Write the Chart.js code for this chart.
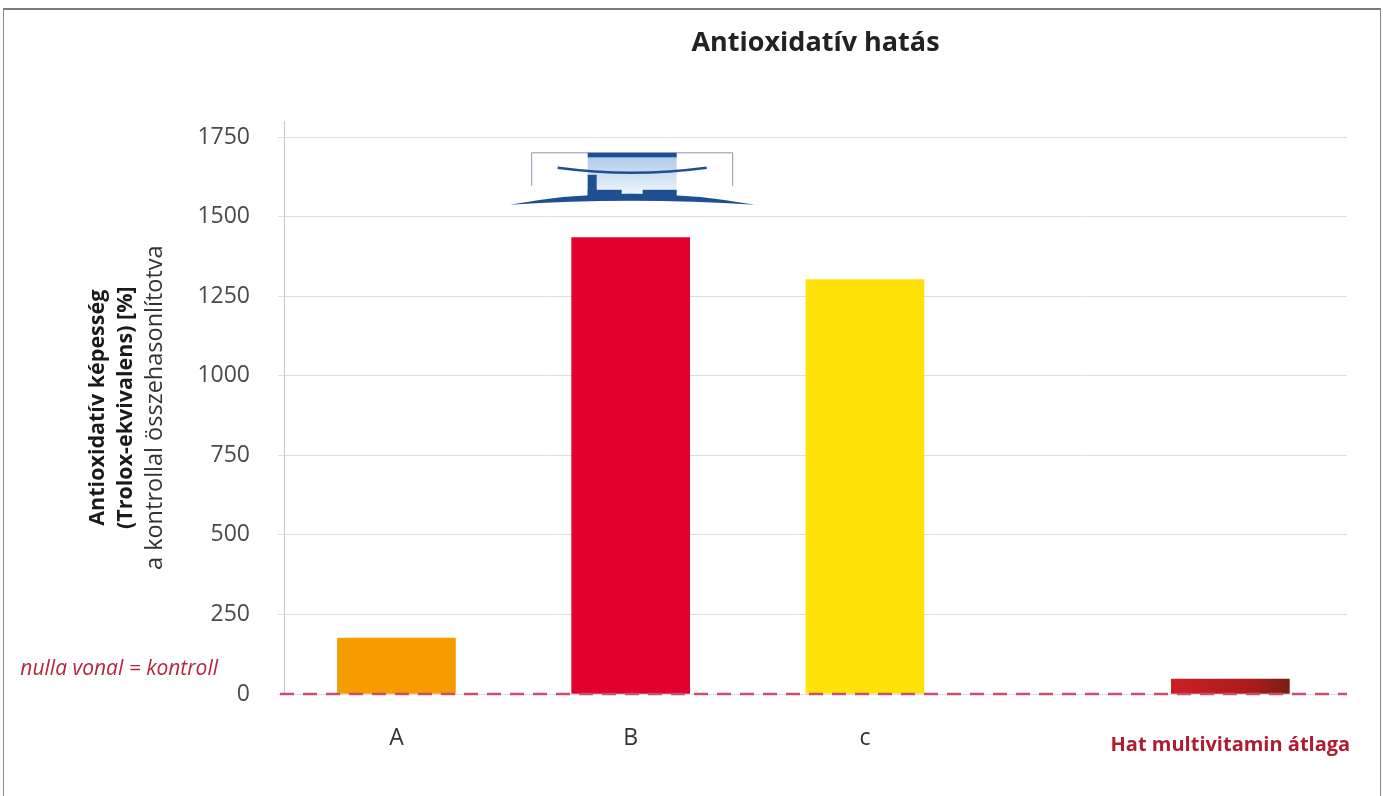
<!DOCTYPE html>
<html>
<head>
<meta charset="utf-8">
<script src="https://cdn.jsdelivr.net/npm/chart.js@4.4.1/dist/chart.umd.min.js"></script>
<style>
  html, body { margin: 0; padding: 0; background: #fff; }
  #frame { position: absolute; left: 3px; top: 8px; width: 1376px; height: 800px; border: 1px solid #8c8c8c; border-top: 2px solid #7a7a7a; }
  #wrap { position: absolute; left: 0; top: 0; width: 1383px; height: 796px; }
</style>
</head>
<body>
<div id="frame"></div>
<div id="wrap"><canvas id="myChart"></canvas></div>
<script>
const categories = ['A', 'B', 'c', 'Hat multivitamin átlaga'];
const values = [176, 1435, 1303, 47];
const barColors = ['#f59c00', '#e2002d', '#ffe20a', '#b51e1e'];
const yTicks = [0, 250, 500, 750, 1000, 1250, 1500, 1750];
const yMax = 1800;

// the multivitamin average stands apart from the three products
const groupGap = 1.56;
const slots = categories.map((c, i) => i < 3 ? i + 1 : 3 + groupGap);

const FONT = 'Open Sans';

const drawLogo = function(ctx, cx, top) {
  ctx.save();
  // thin outline
  ctx.strokeStyle = '#8a98ad';
  ctx.lineWidth = 1;
  ctx.beginPath();
  ctx.moveTo(cx - 99, top + 33);
  ctx.lineTo(cx - 99, top);
  ctx.lineTo(cx + 102, top);
  ctx.lineTo(cx + 102, top + 33);
  ctx.stroke();

  // light box
  const g = ctx.createLinearGradient(0, top, 0, top + 40);
  g.addColorStop(0, '#a7c6e6');
  g.addColorStop(1, '#eef4fb');
  ctx.fillStyle = g;
  ctx.fillRect(cx - 43, top + 4, 89, 36);

  ctx.fillStyle = '#1d4f91';
  ctx.fillRect(cx - 43, top, 89, 4.5);

  // bow
  ctx.strokeStyle = '#1d4f91';
  ctx.lineWidth = 2.5;
  ctx.beginPath();
  ctx.moveTo(cx - 73, top + 15);
  ctx.quadraticCurveTo(cx + 1, top + 25, cx + 76, top + 15);
  ctx.stroke();

  // steps
  ctx.fillRect(cx - 43, top + 22, 9, 25);
  ctx.fillRect(cx - 43, top + 37, 34, 10);
  ctx.fillRect(cx - 9, top + 41, 21, 6);
  ctx.fillRect(cx + 12, top + 37, 34, 10);

  // base lens
  ctx.beginPath();
  ctx.moveTo(cx - 121, top + 52);
  ctx.quadraticCurveTo(cx, top + 30, cx + 124, top + 52);
  ctx.quadraticCurveTo(cx, top + 44, cx - 121, top + 52);
  ctx.fill();
  ctx.restore();
};

const extras = {
  id: 'extras',
  afterDatasetsDraw(chart) {
    const {ctx, chartArea, scales} = chart;
    const y0 = scales.y.getPixelForValue(0);

    // zero line = control
    ctx.save();
    ctx.strokeStyle = '#c9506a';
    ctx.lineWidth = 2.5;
    ctx.setLineDash([14, 9]);
    ctx.beginPath();
    ctx.moveTo(chartArea.left - 4, y0);
    ctx.lineTo(chartArea.right, y0);
    ctx.stroke();
    ctx.restore();

    ctx.save();
    ctx.font = `italic 21px "${FONT}"`;
    ctx.fillStyle = '#b5283b';
    ctx.textAlign = 'right';
    ctx.textBaseline = 'middle';
    ctx.fillText('nulla vonal = kontroll', chartArea.left - 66, y0 - 25);
    ctx.restore();

    drawLogo(ctx, scales.x.getPixelForValue(slots[1]), scales.y.getPixelForValue(1750) + 15.5);
  }
};

const data = {
  datasets: [{
    data: slots.map((x, i) => ({x: x, y: values[i]})),
    backgroundColor: (c) => {
      const chart = c.chart;
      if (c.dataIndex !== 3 || !chart.chartArea) return barColors[c.dataIndex];
      const px = chart.scales.x.getPixelForValue(slots[3]);
      const g = chart.ctx.createLinearGradient(px - 59, 0, px + 59, 0);
      g.addColorStop(0, '#cc1f24');
      g.addColorStop(0.7, '#a81c1c');
      g.addColorStop(1, '#7a1c14');
      return g;
    },
    borderWidth: 0,
    barThickness: 118
  }]
};

const config = {
  type: 'bar',
  data: data,
  plugins: [extras],
  options: {
    responsive: true,
    maintainAspectRatio: false,
    animation: false,
    layout: { padding: { left: 0, right: 36, top: 0, bottom: 0 } },
    plugins: {
      legend: { display: false },
      tooltip: { enabled: false },
      title: {
        display: true,
        fullSize: false,
        text: 'Antioxidatív hatás',
        color: '#222',
        font: { family: FONT, size: 27, weight: 'bold' },
        padding: { top: 27, bottom: 62 }
      }
    },
    scales: {
      x: {
        type: 'linear',
        min: 0.52,
        max: 5.058,
        offset: false,
        grid: { display: false },
        border: { display: false },
        afterBuildTicks: (axis) => { axis.ticks = slots.map(v => ({value: v})); },
        afterFit: (axis) => { axis.height = 102; },
        ticks: {
          autoSkip: false,
          maxRotation: 0,
          padding: 23,
          callback: (v, i) => categories[i],
          color: (c) => c.index === 3 ? '#b01c2e' : '#333',
          font: (c) => c.index === 3
            ? { family: FONT, size: 20, weight: 'bold', lineHeight: 2.07 }
            : { family: FONT, size: 23, lineHeight: 1.2 }
        }
      },
      y: {
        type: 'linear',
        position: 'left',
        weight: 0,
        min: 0,
        max: yMax,
        afterBuildTicks: (axis) => { axis.ticks = yTicks.map(v => ({value: v})); },
        afterFit: (axis) => { axis.width = 144; },
        grid: { color: '#dedede', tickLength: 6, lineWidth: 1 },
        border: { color: '#c8c8c8' },
        ticks: {
          padding: 28,
          color: '#4a4a4a',
          font: { family: FONT, size: 23 },
          callback: (v) => String(v)
        },
        title: {
          display: true,
          text: 'a kontrollal összehasonlítotva',
          color: '#333',
          font: { family: FONT, size: 23.5 },
          padding: { top: 1, bottom: 0 }
        }
      },
      y2: {
        type: 'linear',
        position: 'left',
        weight: 1,
        grid: { display: false },
        border: { display: false },
        ticks: { display: false },
        afterFit: (axis) => { axis.width = 140; },
        title: {
          display: true,
          text: ['Antioxidatív képesség', '(Trolox-ekvivalens) [%]'],
          color: '#1a1a1a',
          font: { family: FONT, size: 21.5, weight: 'bold', lineHeight: 1.27 },
          padding: { top: 84.5, bottom: 0 }
        }
      }
    }
  }
};

const myChart = new Chart(
  document.getElementById('myChart'),
  config
);
</script>
</body>
</html>
